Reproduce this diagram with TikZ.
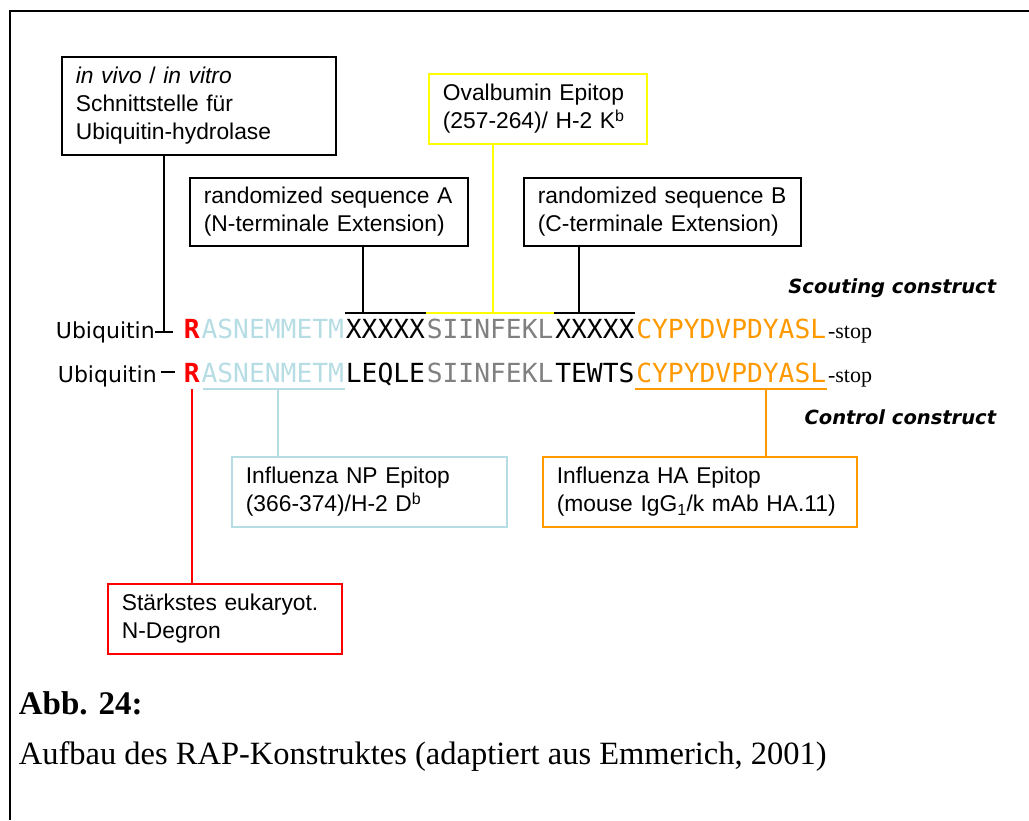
\documentclass[tikz,border=0pt]{standalone}
\usepackage{fontspec}
\setmainfont{Liberation Serif}
\newfontfamily\arialfont{Liberation Sans}
\newfontfamily\seqfont{DejaVu Sans Mono}
\newfontfamily\comicfont{DejaVu Sans}
\usetikzlibrary{positioning}
\definecolor{npblue}{RGB}{182,221,228}
\definecolor{haorange}{RGB}{255,153,0}
\definecolor{ovayellow}{RGB}{255,255,0}
\definecolor{siigrey}{RGB}{128,128,128}

\begin{document}
\begin{tikzpicture}[x=1pt,y=-1pt,line width=1.8pt,node distance=0pt,
      box/.style={draw,align=left,anchor=north west,inner xsep=14pt,inner ysep=0pt,
        font=\arialfont\fontsize{22.8}{28}\selectfont},
      seq/.style={inner sep=0pt,font=\seqfont\fontsize{26.3}{30}\selectfont},
      ubi/.style={inner sep=0pt,anchor=base west,font=\comicfont\fontsize{22}{24}\selectfont},
      tag/.style={inner sep=0pt,anchor=base east,font=\comicfont\bfseries\itshape\fontsize{19.5}{22}\selectfont},
      stp/.style={inner sep=0pt,font=\fontsize{22}{24}\selectfont}]
      \useasboundingbox (0,0) rectangle (1029,820);
      \draw[line width=1.5pt] (10,820) -- (10,11) -- (1029,11);

      \node[box,text width=246pt,minimum height=98pt] (hydro) at (61,56)
        {\textit{in vivo} / \textit{in vitro}\\Schnittstelle für\\Ubiquitin-hydrolase};
      \node[box,text width=250pt,minimum height=68pt] (randA) at (189,177)
        {randomized sequence A\\(N-terminale Extension)};
      \node[box,draw=ovayellow,text width=190pt,minimum height=70pt] (ova) at (428,73)
        {Ovalbumin Epitop\\(257-264)/ H-2 K\textsuperscript{b}};
      \node[box,text width=249pt,minimum height=68pt] (randB) at (523,177)
        {randomized sequence B\\(C-terminale Extension)};
      \node[box,draw=npblue,text width=247pt,minimum height=70pt] (np) at (231,456)
        {Influenza NP Epitop\\(366-374)/H-2 D\textsuperscript{b}};
      \node[box,draw=haorange,text width=286pt,minimum height=70pt] (ha) at (542,456)
        {Influenza HA Epitop\\(mouse IgG\textsubscript{1}/k mAb HA.11)};
      \node[box,draw=red,text width=206pt,minimum height=70pt] (degron) at (107,583)
        {Stärkstes eukaryot.\\N-Degron};

      \node[tag] (scout) at (997,293) {Scouting construct};
      \node[tag] (ctrl) at (997,424) {Control construct};

      \node[ubi] (U1) at (55,338) {Ubiquitin};
      \node[seq,anchor=base west,text=red,font=\seqfont\bfseries\fontsize{26.3}{30}\selectfont] (R1) at (183,338) {R};
      \node[seq,base right=of R1,text=npblue] (A1) {ASNEMMETM};
      \node[seq,base right=of A1] (X1) {XXXXX};
      \node[seq,base right=of X1,text=siigrey] (S1) {SIINFEKL};
      \node[seq,base right=of S1] (Y1) {XXXXX};
      \node[seq,base right=of Y1,text=haorange] (C1) {CYPYDVPDYASL};
      \node[stp,base right=of C1] (E1) {-stop};

      \node[ubi] (U2) at (57,382) {Ubiquitin};
      \node[seq,anchor=base west,text=red,font=\seqfont\bfseries\fontsize{26.3}{30}\selectfont] (R2) at (183,382) {R};
      \node[seq,base right=of R2,text=npblue] (A2) {ASNENMETM};
      \node[seq,base right=of A2] (L2) {LEQLE};
      \node[seq,base right=of L2,text=siigrey] (S2) {SIINFEKL};
      \node[seq,base right=of S2] (T2) {TEWTS};
      \node[seq,base right=of T2,text=haorange] (C2) {CYPYDVPDYASL};
      \node[stp,base right=of C2] (E2) {-stop};

      \coordinate (ovl) at (0,313);
      \coordinate (unl) at (0,389);
      \draw (X1.west |- ovl) -- (X1.east |- ovl);
      \draw[ovayellow] (S1.west |- ovl) -- (S1.east |- ovl);
      \draw (Y1.west |- ovl) -- (Y1.east |- ovl);
      \draw[npblue] ([xshift=2pt]A2.west |- unl) -- (A2.east |- unl);
      \draw[haorange] (C2.west |- unl) -- (C2.east |- unl);

      \coordinate (cH) at (164,332);
      \coordinate (cA) at (363,313);
      \coordinate (cO) at (493,313);
      \coordinate (cB) at (579,313);
      \coordinate (cN) at (278,389);
      \coordinate (cC) at (766,389);
      \draw (cH) -- (cH |- hydro.south);
      \draw ([xshift=-9pt]cH) -- ([xshift=9pt]cH);
      \draw (cA) -- (cA |- randA.south);
      \draw[ovayellow] (cO) -- (cO |- ova.south);
      \draw (cB) -- (cB |- randB.south);
      \draw[npblue] (cN) -- (cN |- np.north);
      \draw[haorange] (cC) -- (cC |- ha.north);
      \draw[red] (R2.south |- unl) -- (R2.south |- degron.north);
      \draw ([xshift=3pt,yshift=10pt]U2.base east) -- ([xshift=-8pt,yshift=10pt]R2.base west);

      \node[inner sep=0pt,anchor=base west,font=\bfseries\fontsize{33}{36}\selectfont] (abb) at (18,714) {Abb. 24:};
      \node[inner sep=0pt,anchor=base west,font=\fontsize{32.5}{36}\selectfont] (cap) at (18,764)
        {Aufbau des RAP-Konstruktes (adaptiert aus Emmerich, 2001)};
    \end{tikzpicture}
\end{document}
